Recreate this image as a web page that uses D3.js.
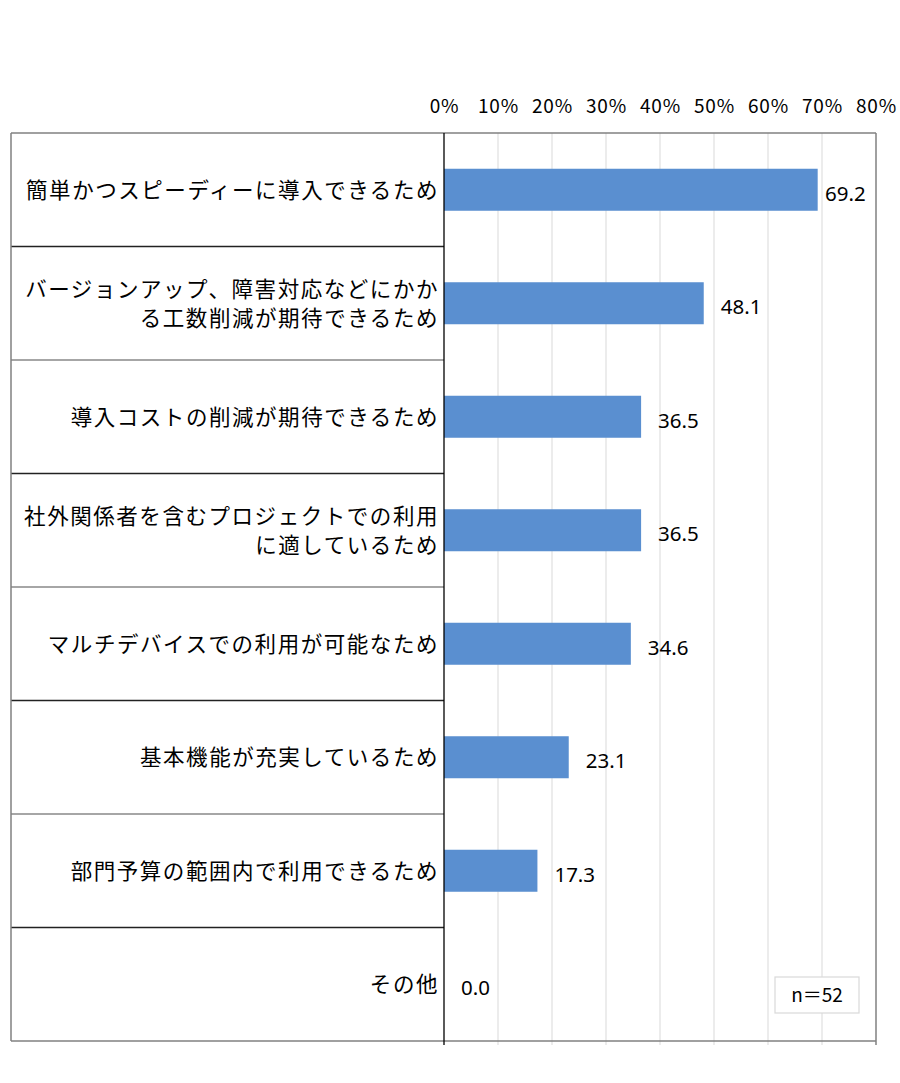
<!DOCTYPE html>
<html><head><meta charset="utf-8">
<script src="https://cdn.jsdelivr.net/npm/d3@7"></script>
<style>
html,body{margin:0;padding:0;background:#fff;}
svg{display:block;}
text{font-family:"Noto Sans CJK JP","Noto Sans",sans-serif;fill:#000;}
</style></head>
<body>
<div id="chart"></div>
<script>
const categories = [
  ["簡単かつスピーディーに導入できるため"],
  ["バージョンアップ、障害対応などにかか","る工数削減が期待できるため"],
  ["導入コストの削減が期待できるため"],
  ["社外関係者を含むプロジェクトでの利用","に適しているため"],
  ["マルチデバイスでの利用が可能なため"],
  ["基本機能が充実しているため"],
  ["部門予算の範囲内で利用できるため"],
  ["その他"]
];
const values = [69.2, 48.1, 36.5, 36.5, 34.6, 23.1, 17.3, 0.0];
const ticks = [0, 10, 20, 30, 40, 50, 60, 70, 80];
const note = "n＝52";

const W = 900, H = 1083;
const fLeft = 11, axisX = 444, fRight = 876, fTop = 133, fBottom = 1041;
const svg = d3.select("#chart").append("svg").attr("width", W).attr("height", H);

const x = d3.scaleLinear().domain([0, 80]).range([axisX, fRight]);
const idx = categories.map((d, i) => i);
const y = d3.scaleBand().domain(idx).range([fTop, fBottom]);
const barH = 42;

// gridlines
svg.append("g").selectAll("line").data(ticks.filter(t => t > 0 && t < 80)).join("line")
  .attr("x1", d => x(d)).attr("x2", d => x(d))
  .attr("y1", fTop).attr("y2", fBottom + 4)
  .attr("stroke", "#d9d9d9").attr("stroke-width", 1);

// top tick labels
const ax = svg.append("g").attr("transform", `translate(0,${fTop})`)
  .call(d3.axisTop(x).tickValues(ticks).tickSize(0).tickPadding(20).tickFormat(d => d + "%"));
ax.select(".domain").remove();
ax.selectAll("text").style("font-size", "19px").style("letter-spacing", "0.8px").attr("fill", "#000")
  .style("font-family", '"Noto Sans CJK JP",sans-serif').attr("dy", 0);

// row separators in the label table
svg.append("g").selectAll("line").data(idx.slice(1)).join("line")
  .attr("x1", fLeft).attr("x2", axisX)
  .attr("y1", d => y(d)).attr("y2", d => y(d))
  .attr("stroke", d => d % 2 === 1 ? "#222" : "#888").attr("stroke-width", 1.3);

// outer frame
svg.append("line").attr("x1", fLeft).attr("x2", fRight).attr("y1", fTop).attr("y2", fTop)
  .attr("stroke", "#808080").attr("stroke-width", 1.5);
svg.append("line").attr("x1", fLeft).attr("x2", fRight).attr("y1", fBottom).attr("y2", fBottom)
  .attr("stroke", "#808080").attr("stroke-width", 1.5);
svg.append("line").attr("x1", fLeft).attr("x2", fLeft).attr("y1", fTop).attr("y2", fBottom)
  .attr("stroke", "#808080").attr("stroke-width", 1.5);
svg.append("line").attr("x1", fRight).attr("x2", fRight).attr("y1", fTop).attr("y2", fBottom + 4)
  .attr("stroke", "#808080").attr("stroke-width", 1.5);

// bars
svg.append("g").selectAll("rect").data(values).join("rect")
  .attr("x", x(0)).attr("y", (d, i) => y(i) + y.bandwidth() / 2 - barH / 2)
  .attr("width", d => x(d) - x(0)).attr("height", barH)
  .attr("fill", "#5A8FD0");

// axis line
svg.append("line").attr("x1", axisX).attr("x2", axisX).attr("y1", fTop).attr("y2", fBottom + 4)
  .attr("stroke", "#000").attr("stroke-width", 1.3);

// value labels
svg.append("g").selectAll("text").data(values).join("text")
  .attr("x", d => Math.min(x(d) + 17, fRight - 51))
  .attr("y", (d, i) => y(i) + y.bandwidth() / 2 + 11)
  .style("font-family", '"Noto Sans",sans-serif')
  .style("font-size", "20.5px")
  .text(d => d.toFixed(1));

// category labels
const lineGap = 29;
const lab = svg.append("g").selectAll("text").data(categories).join("text")
  .attr("text-anchor", "end")
  .style("font-size", "21.5px").style("letter-spacing", "1.55px")
  .attr("y", (d, i) => y(i) + y.bandwidth() / 2);
lab.selectAll("tspan").data(d => d.map((t, j) => ({t, j, n: d.length}))).join("tspan")
  .attr("x", 439)
  .attr("dy", (d) => d.j === 0 ? ((-(d.n - 1) * lineGap) / 2 + 8) : lineGap)
  .text(d => d.t);

// n box
const nb = svg.append("g");
nb.append("rect").attr("x", 775).attr("y", 977).attr("width", 84).attr("height", 36)
  .attr("fill", "#fff").attr("stroke", "#d9d9d9").attr("stroke-width", 1.2);
nb.append("text").attr("x", 817).attr("y", 1002).attr("text-anchor", "middle")
  .style("font-size", "19px").text(note);
</script>
</body></html>
